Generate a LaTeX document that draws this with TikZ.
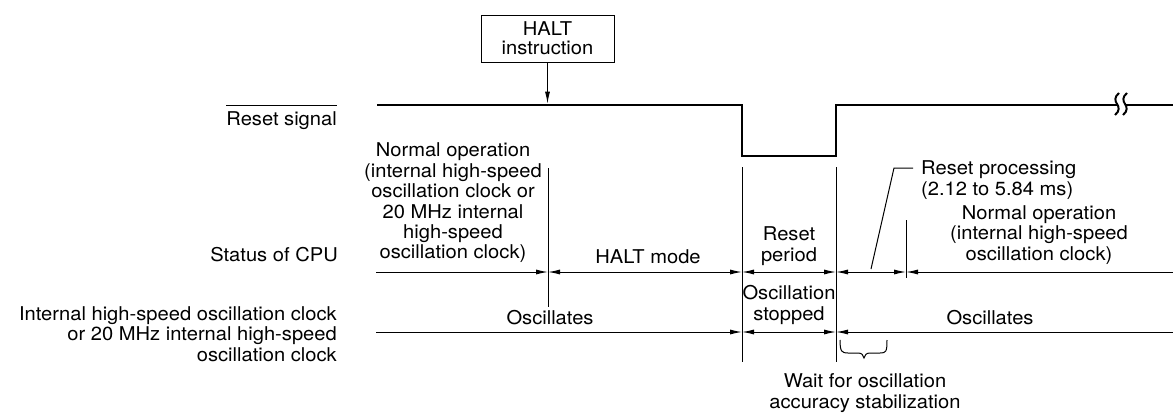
\documentclass[tikz,border=0pt]{standalone}
\usepackage{fontspec}
\setmainfont{TeX Gyre Heros}[FakeStretch=1.06]
\usetikzlibrary{arrows.meta}
\begin{document}
\begin{tikzpicture}[x=1pt,y=-1pt,
  every node/.style={font=\fontsize{19}{20.4}\selectfont, inner sep=0pt},
  sig/.style={line width=2.6pt, line join=miter},
  rule/.style={line width=1pt},
  squig/.style={line width=2pt},
  >={Latex[length=12pt,width=5pt]}]
\useasboundingbox (0,0) rectangle (1173,415);

% HALT instruction box and arrow
\node[draw, line width=0.9pt, minimum width=133pt, minimum height=47pt, align=center,
      font=\fontsize{19}{19}\selectfont] (halt) at (547.5,38.5) {HALT\\instruction};
\coordinate (haltpt) at (547.5,103.7);
\draw[rule,->] (halt.south) -- (haltpt);

% Reset signal waveform
\coordinate (s0) at (377,105);
\coordinate (s1) at (742,105);
\coordinate (s2) at (742,156);
\coordinate (s3) at (836,156);
\coordinate (s4) at (836,105);
\coordinate (b1) at (1117,105);
\coordinate (b2) at (1125,105);
\coordinate (s5) at (1173,105);
\draw[sig] (s0) -- (s1) -- (s2) -- (s3) -- (s4) -- (b1);
\draw[sig] (b2) -- (s5);
\draw[squig] (1119,93) .. controls (1114,97) and (1115,101) .. (1117,104)
             .. controls (1119,107) and (1120,111) .. (1115,115);
\draw[squig] (1127,93) .. controls (1122,97) and (1123,101) .. (1125,104)
             .. controls (1127,107) and (1128,111) .. (1123,115);

% Row labels
\coordinate (ovl) at (0,105);
\node[anchor=east] (rs) at (337,121) {Reset signal};
\draw[rule] (rs.west |- ovl) -- (rs.east |- ovl);
\node[anchor=east] (cpu) at (338,255) {Status of CPU};
\node[anchor=east, align=right] (clk) at (337,334) {Internal high-speed oscillation clock\\or 20 MHz internal high-speed\\oscillation clock};

% Vertical marker lines
\coordinate (v1t) at (548,168); \coordinate (v1b) at (548,307);
\coordinate (v2t) at (742,167); \coordinate (v2b) at (742,362);
\coordinate (v3t) at (836,167); \coordinate (v3b) at (836,362);
\coordinate (v4t) at (906,220); \coordinate (v4b) at (906,278);
\draw[rule] (v1t) -- (v1b);
\draw[rule] (v2t) -- (v2b);
\draw[rule] (v3t) -- (v3b);
\draw[rule] (v4t) -- (v4b);

% CPU status dimension line
\coordinate (c0) at (376,272);
\coordinate (c1) at (548,272);
\coordinate (c2) at (742,272);
\coordinate (c3) at (836,272);
\coordinate (c4) at (906,272);
\coordinate (c5) at (1173,272);
\draw[rule,->] (c0) -- (c1);
\draw[rule,<->] (c1) -- (c2);
\draw[rule,<->] (c2) -- (c3);
\draw[rule,<->] (c3) -- (c4);
\draw[rule,<-] (c4) -- (c5);

% Clock dimension line
\coordinate (k0) at (376,332);
\coordinate (k1) at (742,332);
\coordinate (k2) at (836,332);
\coordinate (k3) at (1173,332);
\draw[rule,->] (k0) -- (k1);
\draw[rule,<->] (k1) -- (k2);
\draw[rule,<-] (k2) -- (k3);

% Status texts
\node[align=center] (norm1) at (453,203) {Normal operation\\(internal high-speed\\oscillation clock or\\20 MHz internal\\high-speed\\oscillation clock)};
\node (haltmode) at (648,257) {HALT mode};
\node[align=center] (rperiod) at (789,246) {Reset\\period};
\node[anchor=west, align=left] (rproc) at (921,180) {Reset processing\\(2.12 to 5.84 ms)};
\node[align=center] (norm2) at (1039,235) {Normal operation\\(internal high-speed\\oscillation clock)};

% Reset processing leader
\coordinate (l0) at (871,269);
\coordinate (l1) at (894,168);
\coordinate (l2) at (913,168);
\draw[rule] (l0) -- (l1) -- (l2);

% Clock texts
\node (osc1) at (550,318) {Oscillates};
\node[align=center] (oscst) at (789,305) {Oscillation\\stopped};
\node (osc2) at (990,318) {Oscillates};

% Brace and wait text
\draw[rule] (840,340) .. controls (840,352) and (842,353) .. (848,353) -- (858,353)
            .. controls (862,353) and (863,355) .. (864,358)
            .. controls (865,355) and (866,353) .. (870,353) -- (880,353)
            .. controls (886,353) and (887,352) .. (887,340);
\node[align=center] (wait) at (865,393) {Wait for oscillation\\accuracy stabilization};
\end{tikzpicture}
\end{document}
